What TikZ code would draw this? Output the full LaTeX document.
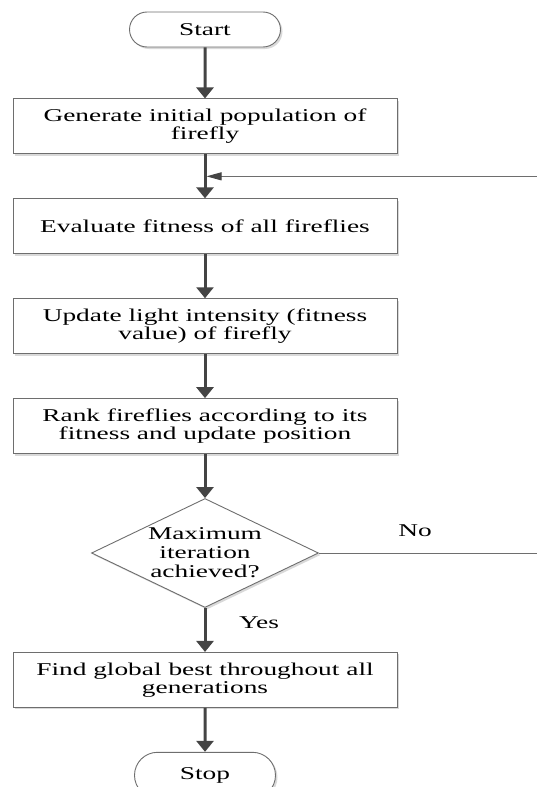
\documentclass[tikz,border=0pt]{standalone}
\usepackage{fontspec}
\setmainfont{Liberation Serif}[FakeStretch=1.52]
\usepackage{xcolor}
\usetikzlibrary{positioning,arrows.meta,shapes.geometric,shapes.misc,shadows,calc}

\definecolor{edgegray}{HTML}{6E6E6E}
\definecolor{arrowgray}{HTML}{444444}

\begin{document}
\begin{tikzpicture}[
  x=1pt, y=-1pt,
  font=\fontsize{18}{18}\selectfont,
  node distance=44pt,
  proc/.style={draw=edgegray, line width=.9pt, fill=white, align=center, minimum width=384pt, minimum height=55pt, inner sep=2pt, drop shadow={shadow xshift=2pt, shadow yshift=-2pt, fill=black!15, opacity=1}},
  term/.style={proc, rounded rectangle, minimum width=155pt, minimum height=35pt},
  decision/.style={proc, diamond, aspect=2, inner sep=0pt, minimum width=227pt, minimum height=109pt, font=\fontsize{18}{19}\selectfont},
  arrow/.style={-{Triangle[length=11pt, width=17pt]}, draw=arrowgray, line width=3pt},
  back/.style={-{Triangle[length=15pt, width=8pt, color=arrowgray, fill=arrowgray]}, draw=edgegray, line width=1pt}
]
\useasboundingbox (0,0) rectangle (537,787);
\node[term] (start) at (205,29.5) {Start};
\node[proc, below=51pt of start] (init) {Generate initial population of\\firefly};
\node[proc, below=of init] (eval) {Evaluate fitness of all fireflies};
\node[proc, below=of eval] (update) {Update light intensity (fitness\\value) of firefly};
\node[proc, below=of update] (rank) {Rank fireflies according to its\\fitness and update position};
\node[decision, below=of rank] (cond) {Maximum\\iteration\\achieved?};
\node[proc, below=of cond] (best) {Find global best throughout all\\generations};
\node[term, below=of best, minimum width=145pt, minimum height=46pt] (stop) {Stop};
\node (no) at (415,531) {No};
\node (yes) at (259,623) {Yes};
\coordinate (join) at ($(init.south)!.5!(eval.north)+(1.5,0)$);
\coordinate (edge) at (548,0);
\draw[arrow] (start) -- (init);
\draw[arrow] (init) -- (eval);
\draw[arrow] (eval) -- (update);
\draw[arrow] (update) -- (rank);
\draw[arrow] (rank) -- (cond);
\draw[arrow] (cond) -- (best);
\draw[arrow] (best) -- (stop);
\draw[back] (cond.east) -- (cond.east -| edge) -- (edge |- join) -- (join);
\end{tikzpicture}
\end{document}
